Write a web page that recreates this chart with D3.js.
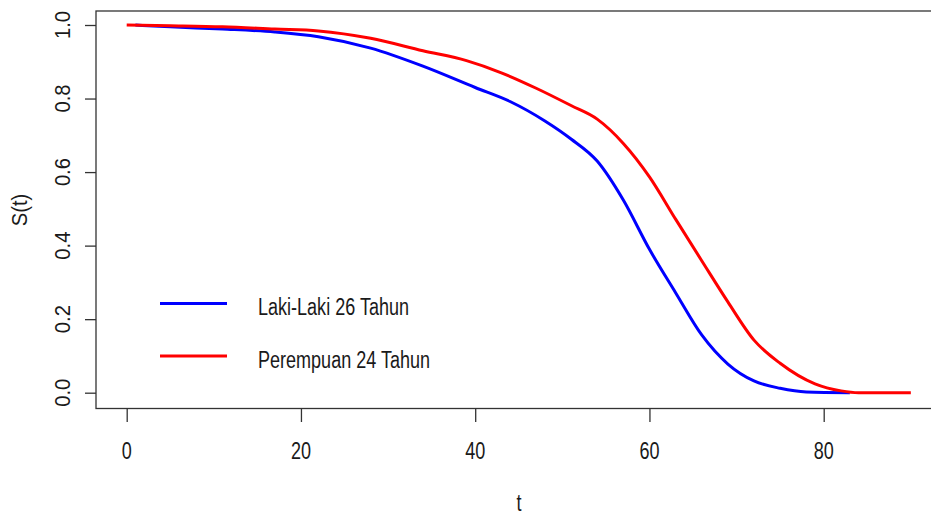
<!DOCTYPE html>
<html>
<head>
<meta charset="utf-8">
<script src="https://cdn.jsdelivr.net/npm/d3@7"></script>
<style>
  html, body { margin: 0; padding: 0; background: #fff; }
  svg { display: block; }
  text { font-family: "Liberation Sans", Arial, sans-serif; fill: #1a1a1a; }
</style>
</head>
<body>
<svg id="chart" width="931" height="517"></svg>
<script>
// Survival curves S(t)
const maleT = [1, 5, 11, 17, 22, 28, 34, 40, 44, 48, 51, 54, 57, 60, 63, 66, 69, 72, 75, 78, 83];
const maleS = [1.000, 0.995, 0.989, 0.981, 0.968, 0.937, 0.888, 0.830, 0.792, 0.739, 0.690, 0.630, 0.524, 0.390, 0.272, 0.157, 0.078, 0.032, 0.012, 0.002, 0.000];

const femaleT = [0, 5, 11, 17, 22, 28, 34, 39, 43, 47, 51, 54, 57, 60, 63, 66, 69, 72, 75, 79, 82, 84, 90];
const femaleS = [1.000, 0.998, 0.995, 0.989, 0.984, 0.964, 0.930, 0.903, 0.870, 0.828, 0.781, 0.744, 0.678, 0.587, 0.472, 0.359, 0.247, 0.143, 0.080, 0.024, 0.005, 0.000, 0.000];

const seriesNames = ["Laki-Laki 26 Tahun", "Perempuan 24 Tahun"];
const seriesColors = ["#0000ff", "#ff0000"];

const xTicks = [0, 20, 40, 60, 80];
const yTicks = [0, 0.2, 0.4, 0.6, 0.8, 1.0];
const xTitle = "t";
const yTitle = "S(t)";

const svg = d3.select("#chart");

const x = d3.scaleLinear().domain([0, 80]).range([126.7, 823.7]);
const y = d3.scaleLinear().domain([0, 1]).range([392.7, 25]);

const box = { left: 96, top: 11, right: 945, bottom: 408.5 };

// text helpers: condensed glyphs, slightly tall on screen
const SX = 0.82, SY = 1.12, FS = 22;
function hText(g, tx, ty, str, anchor) {
  return g.append("text")
    .attr("transform", `translate(${tx},${ty}) scale(${SX},${SY})`)
    .attr("text-anchor", anchor || "start")
    .attr("font-size", FS)
    .text(str);
}
function vText(g, tx, ty, str) {
  return g.append("text")
    .attr("transform", `translate(${tx},${ty}) scale(1,${SY}) rotate(-90) scale(${SX},1)`)
    .attr("text-anchor", "middle")
    .attr("font-size", FS)
    .text(str);
}

// plot frame
svg.append("rect")
  .attr("x", box.left).attr("y", box.top)
  .attr("width", box.right - box.left).attr("height", box.bottom - box.top)
  .attr("fill", "none").attr("stroke", "#333").attr("stroke-width", 1.3);

// x axis
const xAxis = d3.axisBottom(x).tickValues(xTicks).tickSize(13.5).tickFormat("");
const gx = svg.append("g").attr("transform", `translate(0,${box.bottom})`).call(xAxis);
gx.select(".domain").remove();
gx.selectAll(".tick line").attr("stroke", "#333").attr("stroke-width", 1.3);
const gxl = svg.append("g");
xTicks.forEach(v => hText(gxl, x(v), 459, d3.format("d")(v), "middle"));

// y axis
const yAxis = d3.axisLeft(y).tickValues(yTicks).tickSize(11).tickFormat("");
const gy = svg.append("g").attr("transform", `translate(${box.left},0)`).call(yAxis);
gy.select(".domain").remove();
gy.selectAll(".tick line").attr("stroke", "#333").attr("stroke-width", 1.3);
const gyl = svg.append("g");
yTicks.forEach(v => vText(gyl, 70, y(v), d3.format(".1f")(v)));

// axis titles
hText(svg, 519, 511, xTitle, "middle");
vText(svg, 27, 210, yTitle);

// curves
const line = d3.line()
  .x(d => x(d[0]))
  .y(d => y(d[1]))
  .curve(d3.curveMonotoneX);

const male = maleT.map((t, i) => [t, maleS[i]]);
const female = femaleT.map((t, i) => [t, femaleS[i]]);

svg.append("path").datum(male)
  .attr("d", line).attr("fill", "none")
  .attr("stroke", seriesColors[0]).attr("stroke-width", 3);
svg.append("path").datum(female)
  .attr("d", line).attr("fill", "none")
  .attr("stroke", seriesColors[1]).attr("stroke-width", 3);

// legend
const legend = svg.append("g");
const legendRows = [303.5, 356];
seriesNames.forEach((name, i) => {
  legend.append("line")
    .attr("x1", 160).attr("x2", 227)
    .attr("y1", legendRows[i]).attr("y2", legendRows[i])
    .attr("stroke", seriesColors[i]).attr("stroke-width", 3);
  hText(legend, 258, legendRows[i] + 11.5, name, "start");
});
</script>
</body>
</html>
